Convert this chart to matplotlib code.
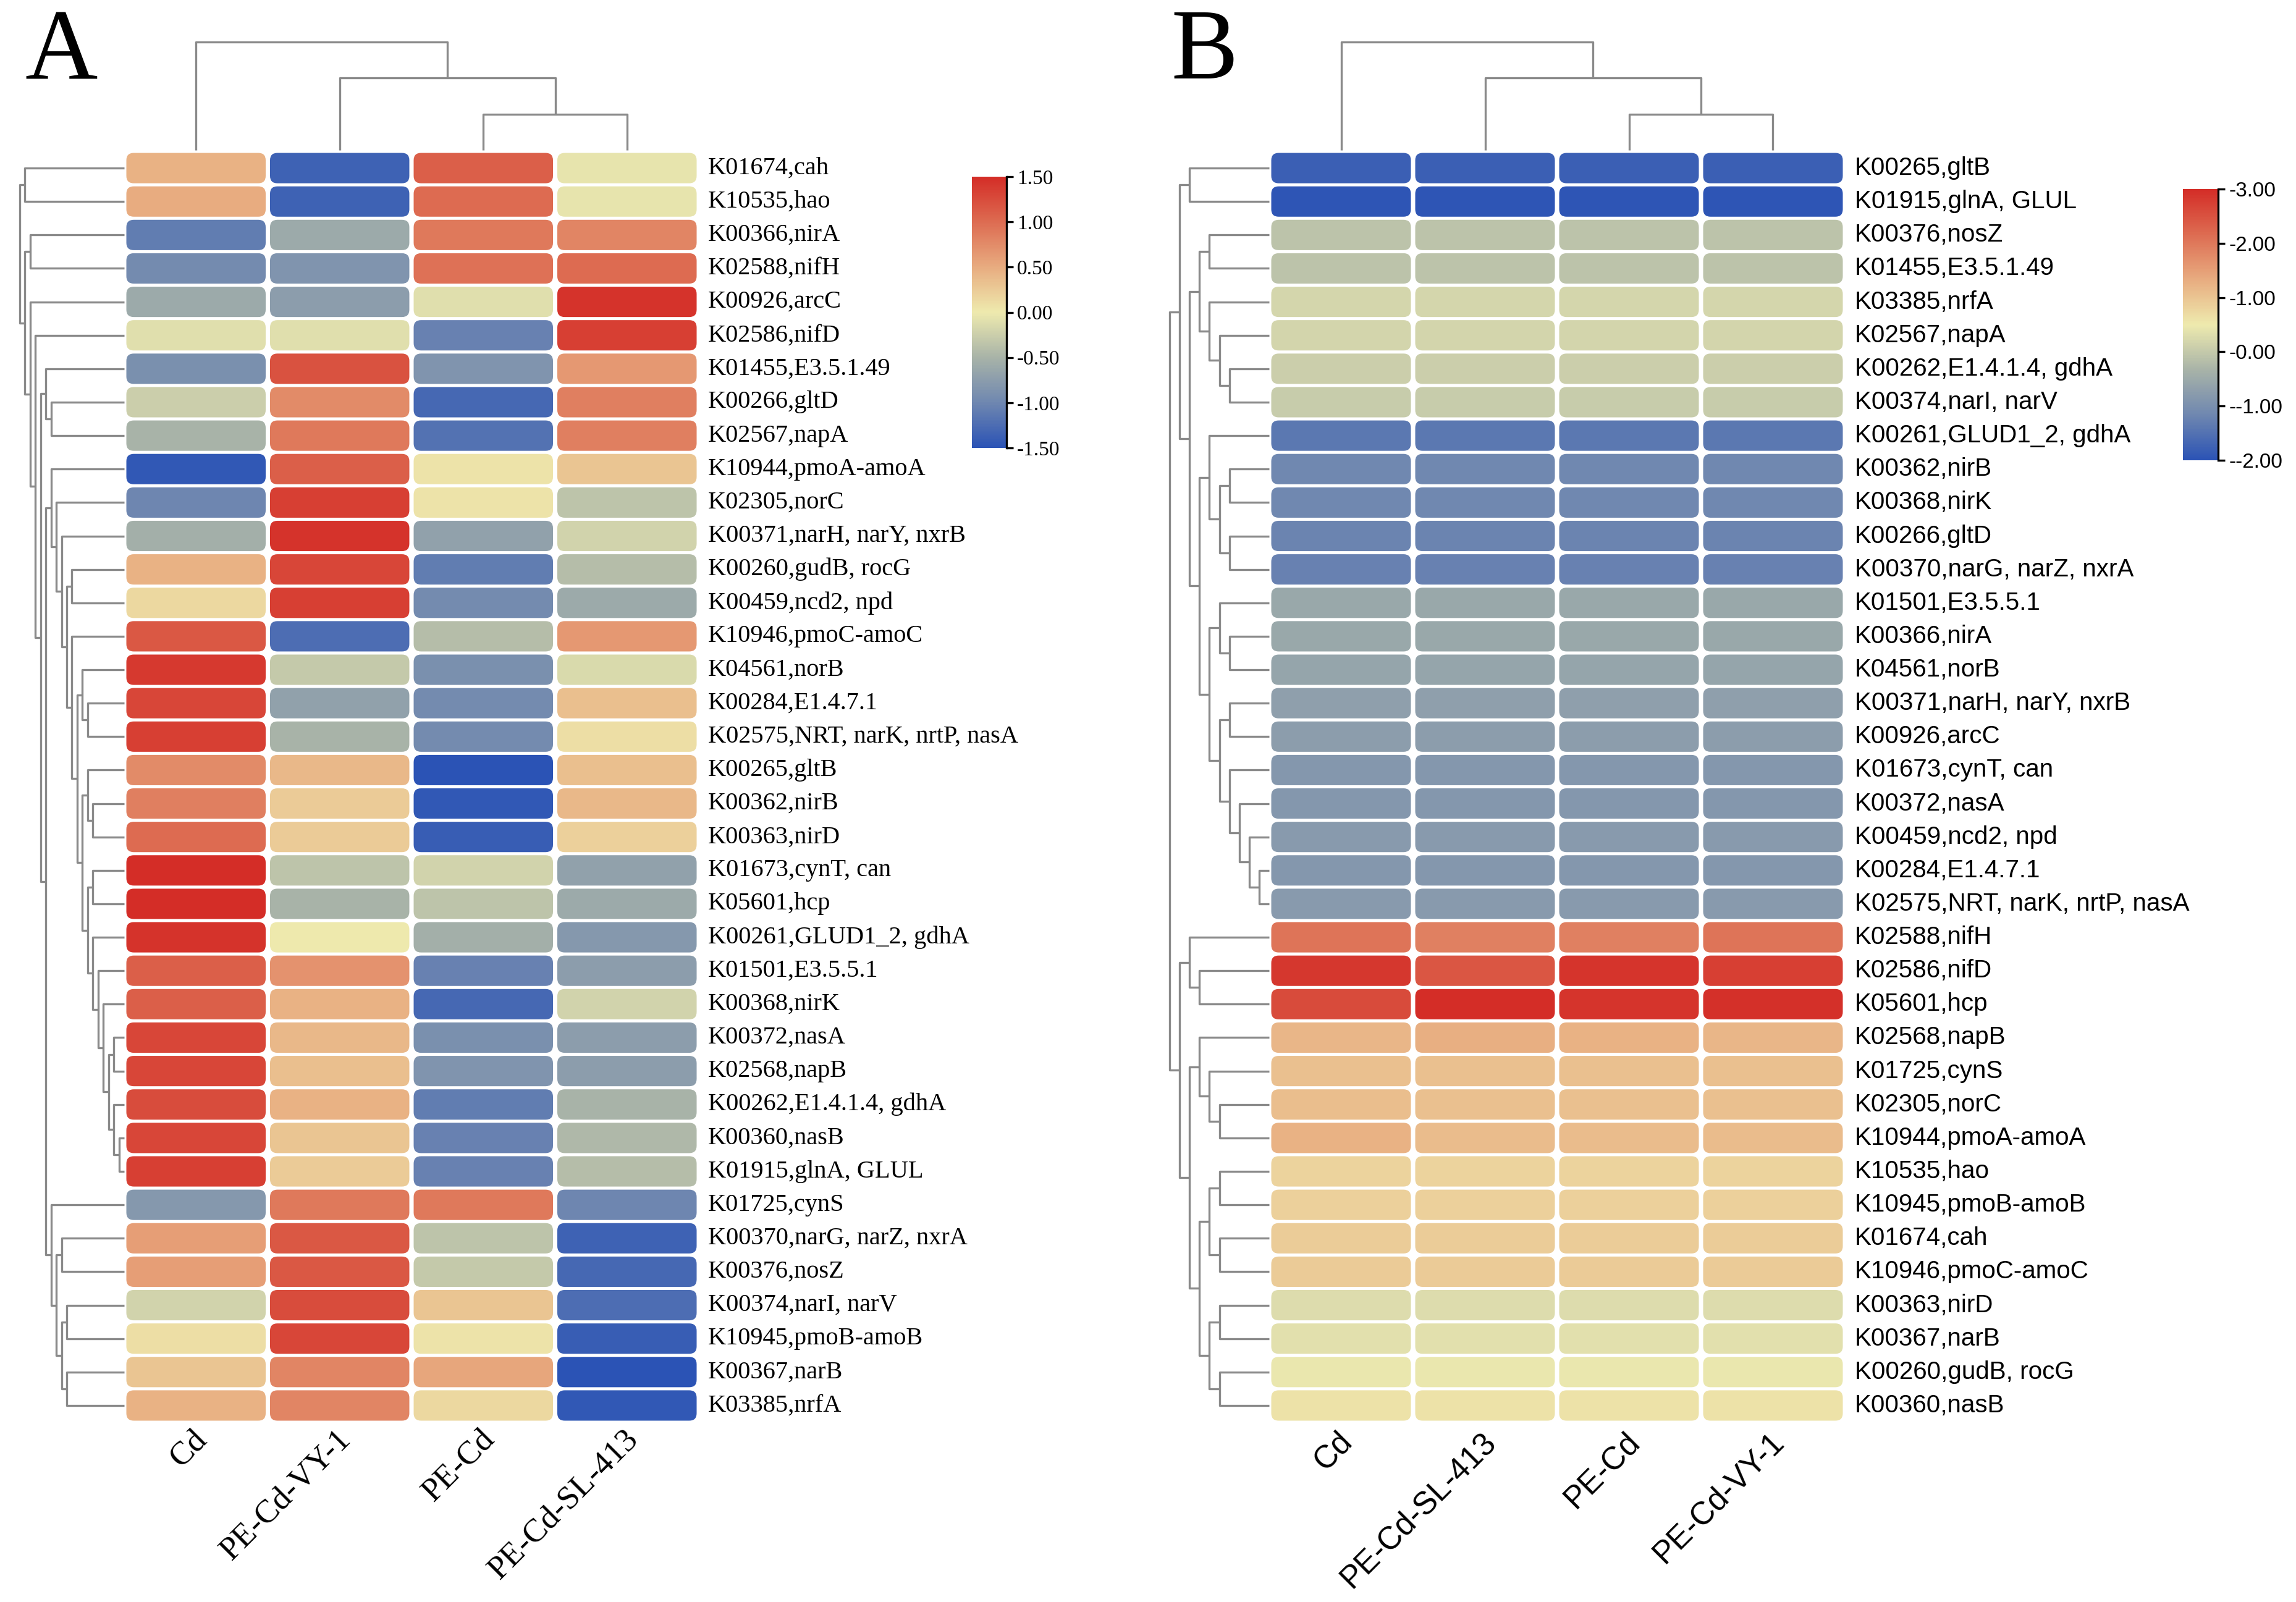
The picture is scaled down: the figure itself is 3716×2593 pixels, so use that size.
import numpy as np
import matplotlib
matplotlib.use('Agg')
import matplotlib.pyplot as plt
from matplotlib.colors import LinearSegmentedColormap, Normalize
from matplotlib.patches import FancyBboxPatch
from matplotlib.cm import ScalarMappable

W, H, DPI = 3716, 2593, 300

# ---------------- data: panel A ----------------
samples_a = ['Cd', 'PE-Cd-VY-1', 'PE-Cd', 'PE-Cd-SL-413']
genes_a = ['K01674,cah', 'K10535,hao', 'K00366,nirA', 'K02588,nifH', 'K00926,arcC',
           'K02586,nifD', 'K01455,E3.5.1.49', 'K00266,gltD', 'K02567,napA',
           'K10944,pmoA-amoA', 'K02305,norC', 'K00371,narH, narY, nxrB',
           'K00260,gudB, rocG', 'K00459,ncd2, npd', 'K10946,pmoC-amoC', 'K04561,norB',
           'K00284,E1.4.7.1', 'K02575,NRT, narK, nrtP, nasA', 'K00265,gltB',
           'K00362,nirB', 'K00363,nirD', 'K01673,cynT, can', 'K05601,hcp',
           'K00261,GLUD1_2, gdhA', 'K01501,E3.5.5.1', 'K00368,nirK', 'K00372,nasA',
           'K02568,napB', 'K00262,E1.4.1.4, gdhA', 'K00360,nasB', 'K01915,glnA, GLUL',
           'K01725,cynS', 'K00370,narG, narZ, nxrA', 'K00376,nosZ', 'K00374,narI, narV',
           'K10945,pmoB-amoB', 'K00367,narB', 'K03385,nrfA']
values_a = np.array([
    [0.45, -1.35, 1.10, -0.05],
    [0.50, -1.35, 1.00, -0.05],
    [-1.10, -0.60, 0.90, 0.80],
    [-0.95, -0.85, 0.95, 1.00],
    [-0.60, -0.75, -0.10, 1.45],
    [-0.10, -0.10, -1.05, 1.35],
    [-0.90, 1.20, -0.85, 0.65],
    [-0.25, 0.75, -1.30, 0.85],
    [-0.50, 0.90, -1.20, 0.85],
    [-1.45, 1.10, 0.05, 0.30],
    [-1.00, 1.35, 0.05, -0.35],
    [-0.55, 1.45, -0.70, -0.20],
    [0.45, 1.30, -1.10, -0.40],
    [0.15, 1.35, -0.95, -0.60],
    [1.15, -1.25, -0.40, 0.65],
    [1.40, -0.30, -0.90, -0.15],
    [1.30, -0.70, -0.95, 0.35],
    [1.35, -0.50, -0.95, 0.10],
    [0.75, 0.40, -1.50, 0.35],
    [0.85, 0.25, -1.45, 0.40],
    [1.00, 0.25, -1.40, 0.20],
    [1.50, -0.35, -0.20, -0.70],
    [1.50, -0.50, -0.35, -0.60],
    [1.45, 0.00, -0.55, -0.80],
    [1.10, 0.70, -1.05, -0.75],
    [1.10, 0.45, -1.30, -0.20],
    [1.30, 0.40, -0.90, -0.75],
    [1.30, 0.35, -0.85, -0.75],
    [1.25, 0.45, -1.10, -0.50],
    [1.30, 0.30, -1.05, -0.45],
    [1.35, 0.25, -1.05, -0.40],
    [-0.80, 0.90, 0.90, -1.00],
    [0.60, 1.15, -0.35, -1.35],
    [0.60, 1.15, -0.30, -1.30],
    [-0.20, 1.25, 0.30, -1.25],
    [0.10, 1.30, 0.05, -1.40],
    [0.30, 0.80, 0.55, -1.50],
    [0.45, 0.80, 0.15, -1.45],
])
# merges: (child, child, level); leaves 0..n-1, merged nodes n, n+1, ...
col_tree_a = [(2, 3, 1), (1, 4, 2), (0, 5, 3)]
row_tree_a = [(0, 1, 19), (2, 3, 18), (7, 8, 14), (6, 40, 15), (12, 13, 10),
              (16, 17, 7), (15, 43, 8), (19, 20, 6), (18, 45, 7), (21, 22, 6),
              (26, 27, 2), (29, 30, 1), (28, 49, 2), (48, 50, 3), (25, 51, 4),
              (24, 52, 5), (23, 53, 6), (47, 54, 7), (46, 55, 8), (44, 56, 9),
              (14, 57, 10), (42, 58, 11), (11, 59, 12), (10, 60, 13), (9, 61, 14),
              (34, 35, 11), (36, 37, 11), (63, 64, 12), (32, 33, 12), (66, 65, 13),
              (31, 67, 14), (62, 68, 15), (41, 69, 16), (5, 70, 17), (4, 71, 18),
              (39, 72, 19), (38, 73, 20)]
ticks_a = [-1.5, -1.0, -0.5, 0.0, 0.5, 1.0, 1.5]
ticklabels_a = ['-1.50', '-1.00', '-0.50', '0.00', '0.50', '1.00', '1.50']

# ---------------- data: panel B ----------------
samples_b = ['Cd', 'PE-Cd-SL-413', 'PE-Cd', 'PE-Cd-VY-1']
genes_b = ['K00265,gltB', 'K01915,glnA, GLUL', 'K00376,nosZ', 'K01455,E3.5.1.49',
           'K03385,nrfA', 'K02567,napA', 'K00262,E1.4.1.4, gdhA', 'K00374,narI, narV',
           'K00261,GLUD1_2, gdhA', 'K00362,nirB', 'K00368,nirK', 'K00266,gltD',
           'K00370,narG, narZ, nxrA', 'K01501,E3.5.5.1', 'K00366,nirA', 'K04561,norB',
           'K00371,narH, narY, nxrB', 'K00926,arcC', 'K01673,cynT, can', 'K00372,nasA',
           'K00459,ncd2, npd', 'K00284,E1.4.7.1', 'K02575,NRT, narK, nrtP, nasA',
           'K02588,nifH', 'K02586,nifD', 'K05601,hcp', 'K02568,napB', 'K01725,cynS',
           'K02305,norC', 'K10944,pmoA-amoA', 'K10535,hao', 'K10945,pmoB-amoB',
           'K01674,cah', 'K10946,pmoC-amoC', 'K00363,nirD', 'K00367,narB',
           'K00260,gudB, rocG', 'K00360,nasB']
values_b = np.array([
    [-1.80, -1.80, -1.80, -1.80],
    [-1.95, -1.95, -1.95, -1.95],
    [-0.10, -0.10, -0.10, -0.10],
    [-0.10, -0.10, -0.10, -0.10],
    [0.20, 0.20, 0.20, 0.20],
    [0.18, 0.18, 0.18, 0.18],
    [0.08, 0.08, 0.08, 0.08],
    [0.04, 0.04, 0.04, 0.04],
    [-1.40, -1.40, -1.40, -1.40],
    [-1.15, -1.15, -1.15, -1.15],
    [-1.15, -1.15, -1.15, -1.15],
    [-1.20, -1.20, -1.20, -1.20],
    [-1.25, -1.25, -1.25, -1.25],
    [-0.55, -0.55, -0.55, -0.55],
    [-0.55, -0.55, -0.55, -0.55],
    [-0.60, -0.60, -0.60, -0.60],
    [-0.70, -0.70, -0.70, -0.70],
    [-0.75, -0.75, -0.75, -0.75],
    [-0.85, -0.85, -0.85, -0.85],
    [-0.85, -0.85, -0.85, -0.85],
    [-0.80, -0.80, -0.80, -0.80],
    [-0.85, -0.85, -0.85, -0.85],
    [-0.80, -0.80, -0.80, -0.80],
    [2.05, 1.90, 1.90, 2.05],
    [2.85, 2.45, 2.90, 2.75],
    [2.60, 3.00, 2.90, 2.95],
    [1.20, 1.30, 1.25, 1.20],
    [1.05, 1.05, 1.05, 1.05],
    [1.10, 1.05, 1.05, 1.05],
    [1.25, 1.12, 1.12, 1.12],
    [0.80, 0.80, 0.80, 0.80],
    [0.85, 0.85, 0.85, 0.85],
    [0.90, 0.90, 0.90, 0.90],
    [0.92, 0.92, 0.92, 0.92],
    [0.30, 0.30, 0.30, 0.30],
    [0.35, 0.35, 0.35, 0.35],
    [0.45, 0.45, 0.45, 0.45],
    [0.60, 0.60, 0.60, 0.60],
])
col_tree_b = [(2, 3, 1), (1, 4, 2), (0, 5, 3)]
row_tree_b = [(0, 1, 8), (2, 3, 6), (6, 7, 4), (5, 40, 5), (4, 41, 6), (39, 42, 7),
              (9, 10, 4), (11, 12, 4), (44, 45, 5), (8, 46, 6), (14, 15, 4), (13, 48, 5),
              (16, 17, 4), (21, 22, 1), (20, 51, 2), (19, 52, 3), (18, 53, 4), (50, 54, 5),
              (49, 55, 6), (47, 56, 7), (43, 57, 8), (38, 58, 9), (24, 25, 7), (23, 60, 8),
              (28, 29, 5), (27, 62, 6), (26, 63, 7), (30, 31, 5), (32, 33, 5), (65, 66, 6),
              (34, 35, 5), (36, 37, 5), (68, 69, 6), (67, 70, 7), (64, 71, 8), (61, 72, 9),
              (59, 73, 10)]
ticks_b = [-2, -1, 0, 1, 2, 3]
ticklabels_b = ['--2.00', '--1.00', '-0.00', '-1.00', '-2.00', '-3.00']

cmap = LinearSegmentedColormap.from_list('bwr_soft', [
    (0.0, '#2B53B5'), (0.1667, '#6F87B0'), (0.3333, '#A8B3A8'), (0.5, '#EEEAAE'),
    (0.6667, '#E8AC80'), (0.8333, '#DD6C52'), (1.0, '#D42D27')])

fig = plt.figure(figsize=(W / DPI, H / DPI), dpi=DPI)
LINE = '#8a8a8a'
TOP, BOTTOM = 245, 2302


def px_axes(x0, y0, x1, y1):
    ax = fig.add_axes([x0 / W, 1 - y1 / H, (x1 - x0) / W, (y1 - y0) / H])
    ax.set_axis_off()
    return ax


def draw_tree(ax, merges, n, side):
    pos = {i: i + 0.5 for i in range(n)}
    hgt = {i: 0 for i in range(n)}
    for k, (a, b, h) in enumerate(merges):
        node = n + k
        pos[node] = (pos[a] + pos[b]) / 2
        hgt[node] = h
        hs = [hgt[a], h, h, hgt[b]]
        ps = [pos[a], pos[a], pos[b], pos[b]]
        if side == 'left':
            ax.plot(hs, ps, color=LINE, lw=0.8, clip_on=False, solid_capstyle='butt')
        else:
            ax.plot(ps, hs, color=LINE, lw=0.8, clip_on=False, solid_capstyle='butt')


def panel(x_tree, x_heat0, x_heat1, values, genes, samples, row_tree, col_tree,
          norm, font, label_x, col_font_size, col_label_y, letter, letter_x):
    n, m = values.shape
    rx = px_axes(x_tree, TOP, x_heat0, BOTTOM)
    rx.set_xlim(max(t[2] for t in row_tree), 0)
    rx.set_ylim(n, 0)
    draw_tree(rx, row_tree, n, 'left')

    cx = px_axes(x_heat0, 68, x_heat1, TOP - 2)
    cx.set_xlim(0, m)
    cx.set_ylim(0, 3)
    draw_tree(cx, col_tree, m, 'top')

    hx = px_axes(x_heat0, TOP, x_heat1, BOTTOM)
    hx.set_xlim(0, m)
    hx.set_ylim(n, 0)
    cw = (x_heat1 - x_heat0) / m
    ch = (BOTTOM - TOP) / n
    gx, gy, rad = 3.5 / cw, 2.5 / ch, 12 / cw
    for i in range(n):
        for j in range(m):
            hx.add_patch(FancyBboxPatch(
                (j + gx, i + gy), 1 - 2 * gx, 1 - 2 * gy,
                boxstyle='round,pad=0,rounding_size=%f' % rad,
                mutation_aspect=cw / ch, facecolor=cmap(norm(values[i, j])),
                edgecolor='none'))
    for i, g in enumerate(genes):
        fig.text(label_x / W, 1 - (TOP + (i + 0.5) * ch) / H, g, family=font,
                 fontsize=9.7, ha='left', va='center')
    for j, s in enumerate(samples):
        fig.text((x_heat0 + (j + 0.5) * cw + 10) / W, 1 - col_label_y / H, s, family=font,
                 fontsize=col_font_size, rotation=45, rotation_mode='anchor',
                 ha='right', va='center')
    fig.text(letter_x / W, 1 - 127 / H, letter, family='Liberation Serif',
             fontsize=39, ha='left', va='baseline')


def colorbar(x0, y0, x1, y1, norm, ticks, labels, font):
    cax = fig.add_axes([x0 / W, 1 - y1 / H, (x1 - x0) / W, (y1 - y0) / H])
    cb = fig.colorbar(ScalarMappable(norm=norm, cmap=cmap), cax=cax)
    cb.outline.set_visible(False)
    cax.plot([1, 1], [0, 1], transform=cax.transAxes, color='black', lw=0.8,
             clip_on=False)
    cb.set_ticks(ticks)
    cb.set_ticklabels(labels)
    cax.tick_params(length=2.6, width=0.8, pad=1.5, labelsize=8)
    for t in cax.get_yticklabels():
        t.set_family(font)


norm_a = Normalize(-1.5, 1.5)
norm_b = Normalize(-2, 3)

panel(32, 201, 1131, values_a, genes_a, samples_a, row_tree_a, col_tree_a, norm_a,
      'Liberation Serif', 1146, 12.8, 2322, 'A', 40)
panel(1893, 2054, 2986, values_b, genes_b, samples_b, row_tree_b, col_tree_b, norm_b,
      'Liberation Sans', 3002, 12.3, 2326, 'B', 1895)
colorbar(1573, 286, 1629, 725, norm_a, ticks_a, ticklabels_a, 'Liberation Serif')
colorbar(3533, 306, 3590, 745, norm_b, ticks_b, ticklabels_b, 'Liberation Sans')

fig.savefig('out.png', dpi=DPI, facecolor='white')
